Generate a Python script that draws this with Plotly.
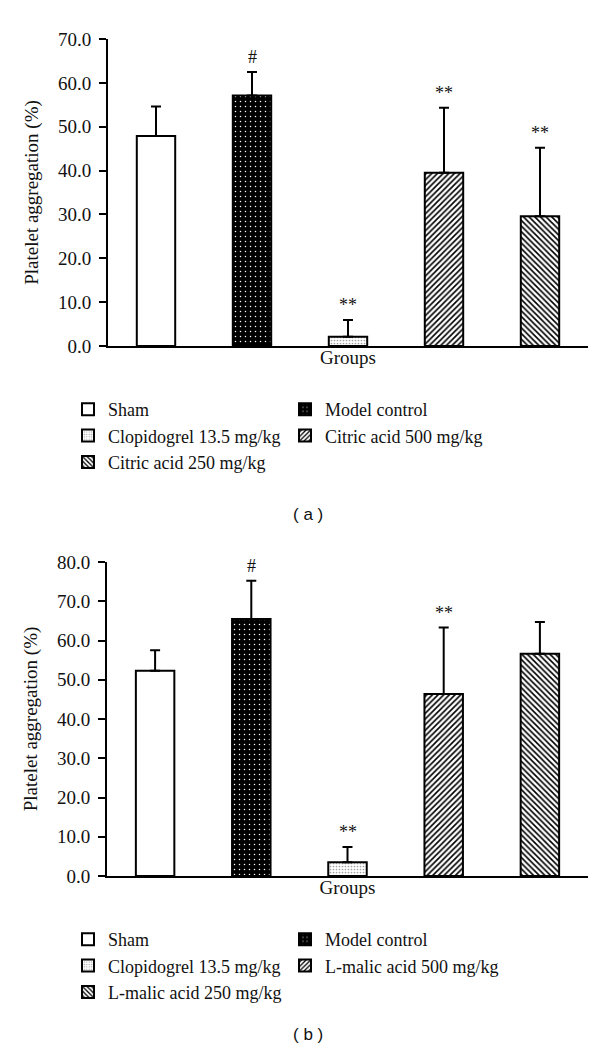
import plotly.graph_objects as go

# ---------------- data ----------------
groups_a = ["Sham", "Model control", "Clopidogrel 13.5 mg/kg",
            "Citric acid 500 mg/kg", "Citric acid 250 mg/kg"]
means_a = [47.9, 57.1, 2.1, 39.5, 29.6]
sd_a = [6.7, 5.4, 3.8, 14.8, 15.6]
marks_a = ["", "#", "**", "**", "**"]

groups_b = ["Sham", "Model control", "Clopidogrel 13.5 mg/kg",
            "L-malic acid 500 mg/kg", "L-malic acid 250 mg/kg"]
means_b = [52.3, 65.5, 3.5, 46.4, 56.6]
sd_b = [5.2, 9.7, 3.9, 16.9, 8.1]
marks_b = ["", "#", "**", "**", ""]

ticks_a = [0, 10, 20, 30, 40, 50, 60, 70]
ticks_b = [0, 10, 20, 30, 40, 50, 60, 70, 80]

# ---------------- styling ----------------
W, H = 600, 1053
SERIF = "Liberation Serif, Times New Roman, serif"
SANS = "Liberation Sans, Arial, sans-serif"
INK = "#111111"

patterns = [
    dict(shape="", bgcolor="white"),
    dict(shape=".", fgcolor="white", bgcolor="black", size=5, solidity=0.07, fillmode="replace"),
    dict(shape=".", fgcolor="#a0a0a0", bgcolor="white", size=3, solidity=0.25, fillmode="replace"),
    dict(shape="/", fgcolor="black", bgcolor="white", size=4, solidity=0.4, fillmode="replace"),
    dict(shape="\\", fgcolor="black", bgcolor="white", size=4, solidity=0.4, fillmode="replace"),
]
base_colors = ["white", "black", "white", "white", "white"]

fig = go.Figure()


def add_panel(groups, means, sds, marks, xa, ya, legend):
    cats = list(range(len(groups)))
    for i, g in enumerate(groups):
        fig.add_trace(go.Bar(
            x=[cats[i]], y=[means[i]], name=g, width=0.4,
            xaxis=xa, yaxis=ya, legend=legend,
            marker=dict(color=base_colors[i], pattern=patterns[i],
                        line=dict(color="black", width=2)),
            error_y=dict(type="data", array=[sds[i]], arrayminus=[0],
                         symmetric=False, color="black", thickness=2, width=5),
            hoverinfo="skip",
        ))
        if marks[i]:
            fig.add_annotation(
                x=cats[i], y=means[i] + sds[i], xref=xa, yref=ya,
                text=marks[i], showarrow=False, yanchor="bottom", yshift=3,
                font=dict(family=SERIF, size=18, color=INK))


add_panel(groups_a, means_a, sd_a, marks_a, "x", "y", "legend")
add_panel(groups_b, means_b, sd_b, marks_b, "x2", "y2", "legend2")

axis_common = dict(showgrid=False, zeroline=False, showline=True, linecolor="black",
                   linewidth=2, automargin=False)
xcommon = dict(axis_common, range=[-0.5, 4.5], showticklabels=False, ticks="",
               title=dict(text="Groups", font=dict(family=SERIF, size=19, color=INK), standoff=4))
ycommon = dict(axis_common, ticks="outside", ticklen=7, tickwidth=2, tickcolor="black",
               tickformat=".1f", tickfont=dict(family=SERIF, size=19, color=INK),
               ticklabelstandoff=4,
               title=dict(text="Platelet aggregation (%)",
                          font=dict(family=SERIF, size=19, color=INK), standoff=14))

legend_common = dict(orientation="h", x=60 / W, xanchor="left", yanchor="top",
                     entrywidth=172, entrywidthmode="pixels", traceorder="normal",
                     font=dict(family=SERIF, size=18, color=INK), bgcolor="rgba(0,0,0,0)")

fig.update_layout(
    width=W, height=H, template="none",
    paper_bgcolor="white", plot_bgcolor="white",
    margin=dict(l=0, r=0, t=0, b=0),
    barmode="overlay", showlegend=True,
    xaxis=dict(xcommon, domain=[100 / W, 580 / W], anchor="y"),
    yaxis=dict(ycommon, domain=[1 - 338 / H, 1 - 31 / H], range=[0, 70],
               tickvals=ticks_a, anchor="x"),
    xaxis2=dict(xcommon, domain=[99 / W, 580 / W], anchor="y2"),
    yaxis2=dict(ycommon, domain=[1 - 868 / H, 1 - 554 / H], range=[0, 80],
                tickvals=ticks_b, anchor="x2"),
    legend=dict(legend_common, y=1 - 383 / H),
    legend2=dict(legend_common, y=1 - 913 / H),
)

fig.add_annotation(text="( a )", x=300 / W, y=1 - 507 / H, xref="paper", yref="paper",
                   showarrow=False, font=dict(family=SANS, size=17, color=INK))
fig.add_annotation(text="( b )", x=300 / W, y=1 - 1038 / H, xref="paper", yref="paper",
                   showarrow=False, font=dict(family=SANS, size=17, color=INK))

fig.write_html("out.html")
